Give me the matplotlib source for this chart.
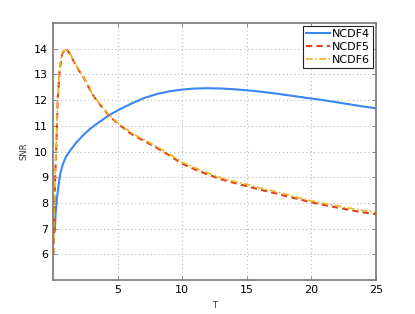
import numpy as np
import matplotlib.pyplot as plt

# NCDF4 (blue, solid)
t4 = [0.13, 0.2, 0.3, 0.45, 0.56, 0.75, 1.0, 1.34, 1.8, 2.3, 2.9, 3.5, 4.3, 5, 6, 7, 8, 9, 10,
      11, 12, 13, 14, 15, 16, 17, 18, 19, 20, 21, 22, 23, 24, 25]
snr4 = [6.9, 7.65, 8.2, 8.8, 9.15, 9.5, 9.8, 10.05, 10.35, 10.62, 10.9, 11.12, 11.4, 11.6, 11.85,
        12.07, 12.23, 12.34, 12.41, 12.45, 12.46, 12.45, 12.42, 12.38, 12.33, 12.27, 12.2, 12.13,
        12.06, 11.99, 11.91, 11.83, 11.75, 11.68]

# NCDF5 (red, dashed)
t5 = [0.02, 0.1, 0.18, 0.26, 0.36, 0.51, 0.7, 1.0, 1.3, 1.6, 2.0, 2.4, 3.0, 3.5, 4.0, 4.3, 5, 6, 7,
      8, 9, 10, 11, 12, 13, 14, 15, 16, 17, 18, 19, 20, 21, 22, 23, 24, 25]
snr5 = [6.0, 8.0, 9.3, 10.4, 12.1, 13.16, 13.8, 14.0, 13.8, 13.5, 13.15, 12.85, 12.25, 11.9, 11.6,
        11.4, 11.09, 10.7, 10.42, 10.15, 9.85, 9.52, 9.3, 9.1, 8.92, 8.78, 8.65, 8.52, 8.4, 8.27,
        8.15, 8.02, 7.92, 7.82, 7.72, 7.63, 7.56]

# NCDF6 (yellow, dash-dot)
t6 = t5
snr6 = [6.0, 8.1, 9.4, 10.5, 12.2, 13.25, 13.85, 14.0, 13.82, 13.52, 13.17, 12.87, 12.27, 11.92,
        11.62, 11.42, 11.12, 10.74, 10.47, 10.2, 9.9, 9.58, 9.36, 9.16, 8.98, 8.84, 8.72, 8.59,
        8.47, 8.34, 8.21, 8.08, 7.98, 7.89, 7.79, 7.71, 7.64]

xticks = [5, 10, 15, 20, 25]
yticks = [6, 7, 8, 9, 10, 11, 12, 13, 14]

fig = plt.figure(figsize=(4.15, 3.14), dpi=100)
ax = fig.add_axes([0.128, 0.108, 0.778, 0.819])

ax.plot(t4, snr4, color='#3a86f5', lw=1.5, ls='-', label='NCDF4')
ax.plot(t5, snr5, color='#e0401c', lw=1.5, ls=(0, (3, 2)), label='NCDF5')
ax.plot(t6, snr6, color='#f0b41c', lw=1.2, ls=(0, (4, 1.5, 1, 1.5)), label='NCDF6')

ax.set_xlim(0, 25)
ax.set_ylim(5, 15)
ax.set_xticks(xticks)
ax.set_yticks(yticks)
ax.tick_params(direction='in', labelsize=8, length=3, color='#777777', width=0.6,
               top=True, right=True)
ax.grid(True, ls=(0, (1, 2.5)), color='#bbbbbb', lw=0.8)
for s in ax.spines.values():
    s.set_color('#777777')
    s.set_linewidth(1.2)

ax.set_xlabel('T', fontsize=6, color='#333333')
ax.set_ylabel('SNR', fontsize=6, color='#333333')

leg = ax.legend(loc='upper right', fontsize=8, fancybox=False, framealpha=1,
                borderpad=0.3, labelspacing=0.25, handlelength=2.1, handletextpad=0.2,
                borderaxespad=0.25)
leg.get_frame().set_edgecolor('#222222')
leg.get_frame().set_linewidth(0.8)

fig.savefig('out.png', dpi=100)
